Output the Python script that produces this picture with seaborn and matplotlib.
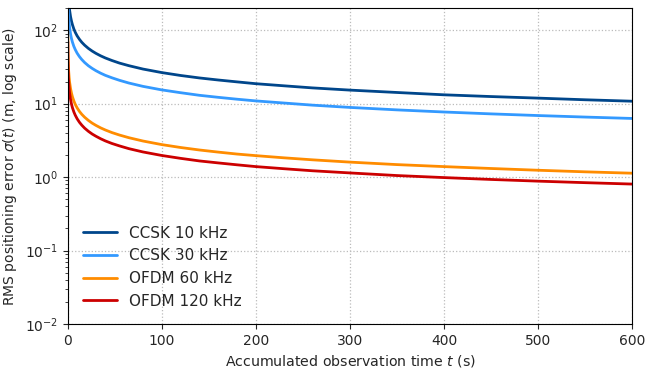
import numpy as np
import pandas as pd
import matplotlib
matplotlib.use("Agg")
import matplotlib.pyplot as plt
import seaborn as sns

t_s = [0.08, 0.15, 0.3, 0.5, 0.75, 1, 1.5, 2, 3, 4, 5, 6.5, 8, 10, 12.5, 15, 18, 22,
       26, 30, 35, 40, 47, 55, 65, 80, 100, 120, 140, 160, 180, 200, 230, 260, 300,
       350, 400, 450, 500, 550, 600]
ccsk_10 = [937, 684, 484, 375, 306, 265, 216, 187, 153, 133, 119, 104, 93.7, 83.8,
           75.0, 68.4, 62.5, 56.5, 52.0, 48.4, 44.8, 41.9, 38.7, 35.7, 32.9, 29.6,
           26.5, 24.2, 22.4, 21.0, 19.8, 18.7, 17.5, 16.4, 15.3, 14.2, 13.2, 12.5,
           11.9, 11.3, 10.8]
ccsk_30 = [545, 398, 281, 218, 178, 154, 126, 109, 88.9, 77.0, 68.9, 60.4, 54.5, 48.7,
           43.6, 39.8, 36.3, 32.8, 30.2, 28.1, 26.0, 24.3, 22.5, 20.8, 19.1, 17.2,
           15.4, 14.1, 13.0, 12.2, 11.5, 10.9, 10.2, 9.55, 8.89, 8.23, 7.70, 7.26,
           6.89, 6.57, 6.29]
ofdm_60 = [98, 71.6, 50.5, 39.2, 32.0, 27.7, 22.6, 19.6, 16.0, 13.9, 12.4, 10.9, 9.79,
           8.76, 7.83, 7.15, 6.53, 5.91, 5.43, 5.06, 4.68, 4.38, 4.04, 3.74, 3.44,
           3.10, 2.77, 2.53, 2.34, 2.19, 2.06, 1.96, 1.83, 1.72, 1.60, 1.48, 1.39,
           1.31, 1.24, 1.18, 1.13]
ofdm_120 = [70, 50.9, 35.9, 27.9, 22.7, 19.7, 16.1, 13.9, 11.4, 9.85, 8.81, 7.73, 6.97,
            6.23, 5.57, 5.09, 4.64, 4.20, 3.86, 3.60, 3.33, 3.11, 2.87, 2.66, 2.44,
            2.20, 1.97, 1.80, 1.66, 1.56, 1.47, 1.39, 1.30, 1.22, 1.14, 1.05, 0.985,
            0.929, 0.881, 0.840, 0.804]

labels = ["CCSK 10 kHz", "CCSK 30 kHz", "OFDM 60 kHz", "OFDM 120 kHz"]
colors = ["#00468b", "#3399ff", "#ff8c00", "#cc0000"]

rows = []
for lab, vals in zip(labels, [ccsk_10, ccsk_30, ofdm_60, ofdm_120]):
    for t, v in zip(t_s, vals):
        rows.append({"t": t, "sigma": v, "scheme": lab})
df = pd.DataFrame(rows)

sns.set_style("ticks")
plt.rcParams['font.family'] = ['DejaVu Sans']

fig = plt.figure(figsize=(6.45, 3.69), dpi=100)
ax = fig.add_axes([0.105, 0.122, 0.875, 0.856])

sns.lineplot(data=df, x="t", y="sigma", hue="scheme", hue_order=labels,
             palette=colors, linewidth=2, ax=ax, estimator=None)

ax.set_yscale("log")
ax.set_xlim(0, 600)
ax.set_ylim(1e-2, 200)
ax.set_xticks([0, 100, 200, 300, 400, 500, 600])
ax.grid(True, which="major", linestyle=":", color="#bbbbbb", linewidth=0.9)
ax.set_xlabel("Accumulated observation time $t$ (s)", fontsize=10.2)
ax.set_ylabel(r"RMS positioning error $\sigma(t)$ (m, log scale)", fontsize=10)
ax.tick_params(labelsize=10)
for sp in ax.spines.values():
    sp.set_color("black")

ax.legend(loc="lower left", frameon=False, fontsize=11, handlelength=2.2,
          borderaxespad=0.6)

fig.savefig("out.png", dpi=100)
